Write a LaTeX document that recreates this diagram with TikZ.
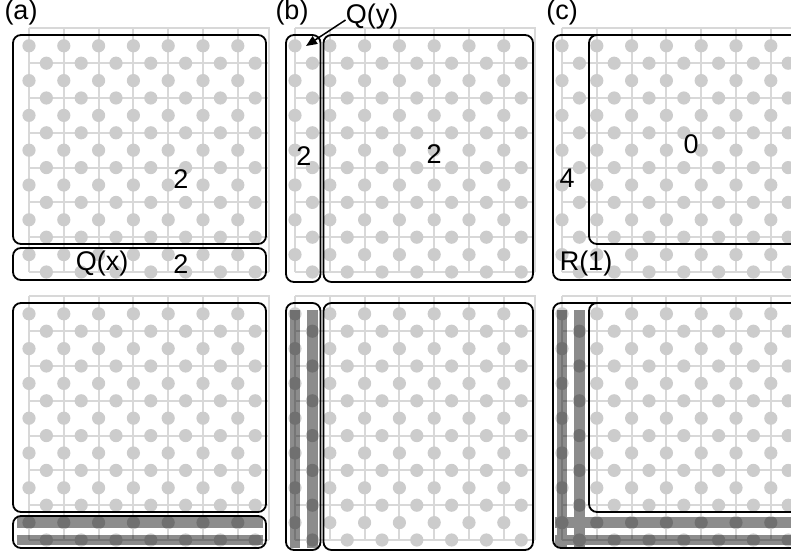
\documentclass[tikz,border=0pt]{standalone}
\usepackage{fontspec}
\setmainfont{Liberation Sans}
\usetikzlibrary{arrows.meta}
\definecolor{bondgray}{HTML}{D8D8D8}
\definecolor{sitegray}{HTML}{CCCCCC}
\tikzset{
  bond/.style={draw=bondgray, line width=2pt},
  site/.style={fill=sitegray},
  region/.style={draw, line width=1.8pt, rounded corners=8pt},
  bar/.style={draw=black, draw opacity=0.45, line width=10.5pt},
  lbl/.style={inner sep=0pt, font=\fontsize{27}{32}\selectfont},
  arr/.style={-{Triangle[length=11pt, width=9pt]}, line width=1.5pt}
}
% one lattice, in lattice units, origin at bottom left
\newcommand{\drawlattice}{%
  \foreach \i in {0,...,6}
    \draw[bond] (\i,0) -- (\i,7);
  \foreach \j in {0,...,6}
    \draw[bond] (0,\j) -- (6.9,\j);
  \draw[bond] (0,7) -- (6.9,7) -- (6.9,0);
  \foreach \i in {0,...,6}
    \foreach \j in {0,...,6} {
      \fill[site] (\i,\j+0.5) circle[radius=6.6pt];
      \fill[site] (\i+0.5,\j) circle[radius=6.6pt];
    }%
}
\begin{document}
\begin{tikzpicture}[x=1pt, y=-1pt]
  \useasboundingbox (0,0) rectangle (791,556);
  \clip (0,0) rectangle (791,556);

  \foreach \px in {29,295,562}
    \foreach \py in {272,540} {
      \begin{scope}[shift={(\px,\py)}, x=34.8pt, y=34.8pt]
        \drawlattice
      \end{scope}
    }

  % lines of the lower row
  \begin{scope}[shift={(29,540)}, x=34.8pt, y=34.8pt]
    \draw[bar] (-0.34,0.5) -- (6.72,0.5) (-0.34,0) -- (6.72,0);
  \end{scope}
  \begin{scope}[shift={(295,540)}, x=34.8pt, y=34.8pt]
    \draw[bar] (0,-0.22) -- (0,6.6) (0.5,-0.22) -- (0.5,6.6);
  \end{scope}
  \begin{scope}[shift={(562,540)}, x=34.8pt, y=34.8pt]
    \draw[bar] (-0.2,0.5) -- (7,0.5) (-0.2,0) -- (7,0)
               (0,-0.22) -- (0,6.6) (0.5,-0.22) -- (0.5,6.6);
  \end{scope}

  \foreach \dy in {0,268} {
    \begin{scope}[shift={(0,\dy)}]
      \draw[region] (13,35) rectangle (266,244);
      \draw[region] (13,248) rectangle (266,280);
      \draw[region] (286,35) rectangle (320.5,282);
      \draw[region] (323.5,35) rectangle (533,282);
      \draw[region] (553,35) rectangle (810,280);
      \draw[region] (589,35) rectangle (810,244);
    \end{scope}
  }

  \node[lbl] (taga) at (21,13) {(a)};
  \node[lbl] (tagb) at (292,13) {(b)};
  \node[lbl] (tagc) at (562,13) {(c)};

  \node[lbl] (bulka) at (181,179) {2};
  \node[lbl] (qx) at (102,264) {Q(x)};
  \node[lbl] (edgea) at (181,264) {2};

  \node[lbl] (edgeb) at (304,156) {2};
  \node[lbl] (bulkb) at (434,154) {2};
  \node[lbl] (qy) at (372,17) {Q(y)};
  \coordinate (qytip) at (306,46);
  \draw[arr] ([yshift=-3pt]qy.west) -- (qytip);

  \node[lbl] (bulkc) at (691,144) {0};
  \node[lbl] (edgec) at (567,178) {4};
  \node[lbl] (r1) at (586,264) {R(1)};
\end{tikzpicture}
\end{document}
